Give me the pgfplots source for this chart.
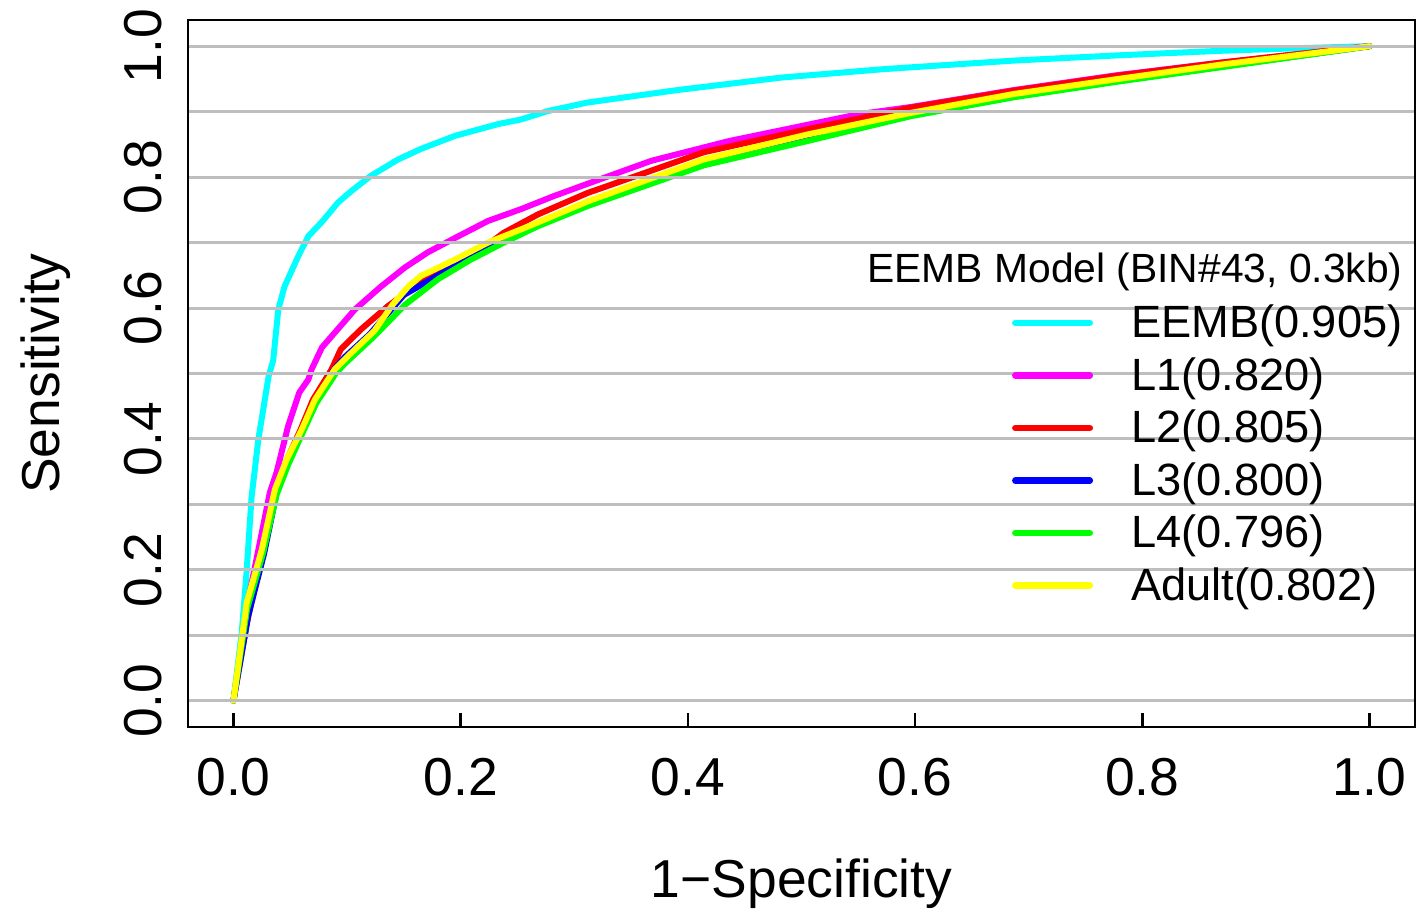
\documentclass[border=0pt]{standalone}
\usepackage{fontspec}
\setmainfont{Liberation Sans}
\usepackage{pgfplots}
\pgfplotsset{compat=1.18}
\definecolor{gridgray}{RGB}{190,190,190}
\definecolor{rcyan}{RGB}{0,255,255}
\definecolor{rmagenta}{RGB}{255,0,255}
\definecolor{rred}{RGB}{255,0,0}
\definecolor{rblue}{RGB}{0,0,255}
\definecolor{rgreen}{RGB}{0,255,0}
\definecolor{ryellow}{RGB}{255,255,0}
\begin{document}
\begin{tikzpicture}
\begin{axis}[
  scale only axis, width=613.5pt, height=353.5pt,
  xmin=-0.04, xmax=1.04, ymin=-0.04, ymax=1.04,
  axis on top,
  axis line style={line width=1.3pt},
  xtick={0,0.2,0.4,0.6,0.8,1}, ytick={0,0.2,0.4,0.6,0.8,1},
  minor ytick={0.1,0.3,0.5,0.7,0.9},
  ymajorgrids, yminorgrids,
  major grid style={gridgray, line width=1.5pt},
  minor grid style={gridgray, line width=1.5pt},
  tick align=inside, xtick pos=bottom, ytick pos=left,
  major tick length=7pt,
  xtick style={line width=1.3pt, black},
  ytick style={draw=none},
  minor tick style={draw=none},
  /pgf/number format/fixed, /pgf/number format/fixed zerofill,
  /pgf/number format/precision=1, /pgf/number format/assume math mode=true,
  xticklabel style={font=\fontsize{26.7}{32}\selectfont, inner sep=0pt, anchor=north},
  xticklabel shift=15.5pt,
  yticklabel style={font=\fontsize{26.7}{32}\selectfont, inner sep=0pt, rotate=90, anchor=south},
  yticklabel shift=13pt,
  xlabel={1−Specificity}, ylabel={Sensitivity},
  xlabel style={at={(axis description cs:0.5,-0.2405)}, anchor=base, font=\fontsize{26.7}{32}\selectfont, inner sep=0pt},
  ylabel style={at={(axis description cs:-0.1051,0.5)}, anchor=base, font=\fontsize{26.7}{32}\selectfont, inner sep=0pt},
  legend style={at={(axis description cs:0.6716,0.5969)}, anchor=north west, draw=none, fill=none,
    inner sep=0pt, outer sep=0pt, row sep=8.4pt, column sep=19pt,
    font=\fontsize{22.6}{26}\selectfont, nodes={inner sep=0pt}},
  legend cell align=left,
  legend image code/.code={\draw[#1, line width=3.3pt, line cap=round] (1.65pt,0pt) -- (38.85pt,0pt);},
  every axis plot/.append style={line width=3pt, line join=round, line cap=round},
]
\addplot[rcyan] coordinates {
(0,0) (0.0073,0.104) (0.0117,0.2) (0.016,0.312) (0.022,0.4) (0.031,0.496) (0.035,0.52)
(0.0395,0.598) (0.045,0.633) (0.057,0.679) (0.066,0.710) (0.0776,0.731) (0.092,0.761)
(0.104,0.779) (0.121,0.802) (0.145,0.827) (0.165,0.843) (0.195,0.863) (0.233,0.881)
(0.253,0.888) (0.277,0.901) (0.312,0.914) (0.391,0.933) (0.482,0.952) (0.573,0.965)
(0.687,0.978) (0.779,0.986) (0.870,0.993) (0.939,0.997) (1,1)};
\addlegendentry{EEMB(0.905)}
\addplot[rmagenta] coordinates {
(0,0) (0.013,0.154) (0.022,0.231) (0.032,0.318) (0.038,0.349) (0.048,0.419) (0.058,0.471)
(0.066,0.491) (0.0687,0.506) (0.078,0.540) (0.089,0.562) (0.107,0.598) (0.130,0.633)
(0.151,0.662) (0.171,0.685) (0.195,0.707) (0.224,0.733) (0.253,0.751) (0.282,0.771)
(0.312,0.790) (0.368,0.825) (0.436,0.855) (0.550,0.896) (0.596,0.907) (0.687,0.933)
(0.779,0.956) (0.870,0.975) (1,1)};
\addlegendentry{L1(0.820)}
\addplot[rred] coordinates {
(0,0) (0.012,0.12) (0.026,0.231) (0.037,0.318) (0.047,0.368) (0.059,0.414) (0.07,0.46)
(0.0863,0.506) (0.0945,0.537) (0.112,0.567) (0.136,0.603) (0.165,0.639) (0.195,0.669)
(0.224,0.697) (0.238,0.715) (0.268,0.743) (0.312,0.776) (0.322,0.782) (0.414,0.838)
(0.505,0.873) (0.596,0.906) (0.687,0.932) (0.779,0.955) (0.870,0.975) (1,1)};
\addlegendentry{L2(0.805)}
\addplot[rblue] coordinates {
(0,0) (0.013,0.13) (0.027,0.225) (0.038,0.318) (0.048,0.365) (0.06,0.412) (0.072,0.458)
(0.088,0.505) (0.098,0.525) (0.12,0.56) (0.15,0.62) (0.18,0.65) (0.21,0.678) (0.24,0.705)
(0.27,0.73) (0.312,0.760) (0.414,0.820) (0.505,0.857) (0.596,0.894) (0.687,0.923)
(0.779,0.947) (0.870,0.969) (1,1)};
\addlegendentry{L3(0.800)}
\addplot[rgreen] coordinates {
(0,0) (0.012,0.14) (0.026,0.225) (0.038,0.315) (0.048,0.36) (0.061,0.41) (0.073,0.455)
(0.09,0.50) (0.098,0.515) (0.124,0.557) (0.151,0.605) (0.180,0.644) (0.209,0.674)
(0.238,0.700) (0.268,0.725) (0.312,0.756) (0.414,0.818) (0.505,0.855) (0.596,0.893)
(0.687,0.922) (0.779,0.946) (0.870,0.968) (1,1)};
\addlegendentry{L4(0.796)}
\addplot[ryellow] coordinates {
(0,0) (0.0117,0.150) (0.025,0.231) (0.0365,0.323) (0.0467,0.368) (0.06,0.414) (0.0717,0.460)
(0.089,0.506) (0.107,0.537) (0.124,0.565) (0.14,0.605) (0.154,0.633) (0.165,0.649)
(0.195,0.674) (0.224,0.700) (0.253,0.720) (0.282,0.741) (0.312,0.763) (0.414,0.827)
(0.505,0.865) (0.596,0.898) (0.687,0.927) (0.779,0.950) (0.870,0.972) (1,1)};
\addlegendentry{Adult(0.802)}
\node[anchor=base east, inner sep=0pt, font=\fontsize{20.4}{24}\selectfont] at (axis description cs:0.9902,0.628) {EEMB Model (BIN\#43, 0.3kb)};
\coordinate (bbl) at (rel axis cs:-0.15322,-0.25743);
\coordinate (btr) at (rel axis cs:1.00163,1.02829);
\end{axis}
\pgfresetboundingbox
\useasboundingbox (bbl) rectangle (btr);
\end{tikzpicture}
\end{document}
